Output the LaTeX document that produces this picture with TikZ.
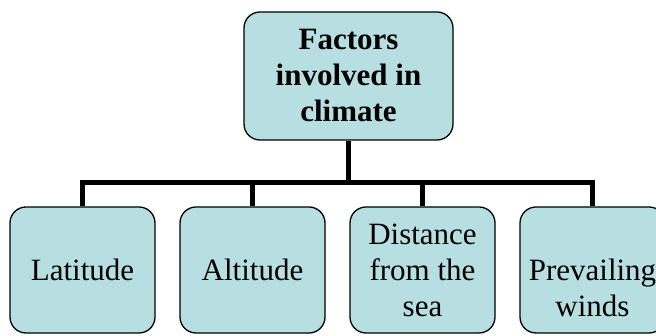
\documentclass[tikz,border=0pt]{standalone}
\usepackage{fontspec}
\setmainfont{Liberation Serif}
\definecolor{boxfill}{RGB}{183,222,225}
\tikzset{
  factor/.style={draw=black, line width=1.3pt, fill=boxfill, rounded corners=16pt,
    minimum width=145pt, minimum height=126pt, align=center, inner sep=2pt,
    font=\fontsize{31}{36}\selectfont},
  topfactor/.style={factor, minimum width=209pt, minimum height=128pt,
    font=\fontsize{31}{36}\selectfont\bfseries},
  factortext/.style={align=center, inner sep=0pt, font=\fontsize{31}{36}\selectfont},
  conn/.style={draw=black, line width=5pt, line join=miter}
}
\begin{document}
\begin{tikzpicture}[x=1pt,y=1pt]
\useasboundingbox (0,0) rectangle (656,336);
\clip (0,0) rectangle (656,336);
\node[topfactor] (top) at (348.5,260) {Factors\\involved in\\climate};
\node[factor] (b1) at (82.5,66) {Latitude};
\node[factor] (b2) at (252.5,66) {Altitude};
\node[factor] (b3) at (422.5,66) {Distance\\from the\\sea};
\node[factor] (b4) at (592.5,66) {};
\node[factortext] (b4t) at ([yshift=-18pt]b4.center) {Prevailing\\winds};
\coordinate (j) at (348.5,153);
\draw[conn] (top.south) -- (j);
\draw[conn] (b1.north) -- (b1.north |- j) -- (b4.north |- j) -- (b4.north);
\draw[conn] (b2.north) -- (b2.north |- j);
\draw[conn] (b3.north) -- (b3.north |- j);
\end{tikzpicture}
\end{document}
